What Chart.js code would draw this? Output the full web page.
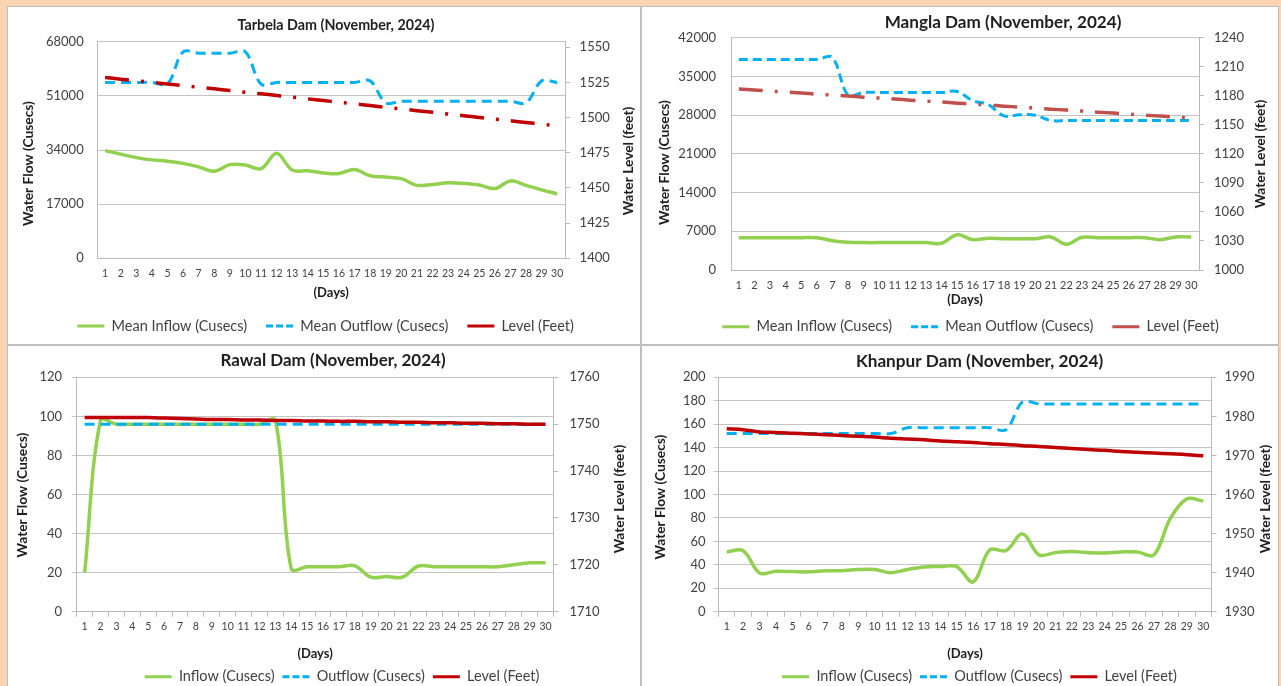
<!DOCTYPE html>
<html><head><meta charset="utf-8">
<script src="https://cdn.jsdelivr.net/npm/chart.js@4.4.1/dist/chart.umd.min.js"></script>
<style>
html,body{margin:0;padding:0;}
body{width:1281px;height:686px;background:#FBD4B4;position:relative;overflow:hidden;}
.panel{position:absolute;background:#fff;border:1px solid #BFBFBF;box-sizing:border-box;overflow:hidden;}
.panel canvas{position:absolute;left:0;top:0;}
</style></head><body>
<div class="panel" style="left:7px;top:6px;width:634px;height:339px"><canvas id="c1" width="632" height="337" style="width:632px;height:337px"></canvas></div>
<div class="panel" style="left:641px;top:6px;width:638px;height:339px"><canvas id="c2" width="636" height="337" style="width:636px;height:337px"></canvas></div>
<div class="panel" style="left:7px;top:345px;width:634px;height:345px"><canvas id="c3" width="632" height="350" style="width:632px;height:350px"></canvas></div>
<div class="panel" style="left:641px;top:345px;width:638px;height:345px"><canvas id="c4" width="636" height="350" style="width:636px;height:350px"></canvas></div>
<script>
// ---------- DATA ----------
const days = ['1','2','3','4','5','6','7','8','9','10','11','12','13','14','15','16','17','18','19','20','21','22','23','24','25','26','27','28','29','30'];

const tarbelaInflow  = [33800, 32700, 31600, 30900, 30500, 29800, 28700, 27300, 29400, 29300, 28100, 33000, 27700, 27500, 26800, 26600, 27900, 25900, 25500, 25000, 22900, 23200, 23700, 23500, 23000, 21900, 24300, 22900, 21500, 20200];
const tarbelaOutflow = [55200, 55200, 55200, 55200, 54700, 64800, 64400, 64400, 64400, 64800, 54700, 55200, 55200, 55200, 55200, 55200, 55200, 55700, 48800, 49300, 49300, 49300, 49300, 49300, 49300, 49300, 49300, 48800, 55700, 55200];
const tarbelaLevel   = [1528.4, 1527.3, 1526.2, 1525.0, 1523.9, 1522.7, 1521.5, 1520.4, 1519.2, 1518.0, 1516.9, 1515.7, 1514.5, 1513.3, 1512.1, 1510.9, 1509.7, 1508.5, 1507.3, 1506.1, 1504.9, 1503.7, 1502.5, 1501.3, 1500.1, 1498.9, 1497.7, 1496.5, 1495.3, 1494.2];
const tarbelaFlowTicks  = [0, 17000, 34000, 51000, 68000];
const tarbelaLevelTicks = [1400, 1425, 1450, 1475, 1500, 1525, 1550];

const manglaInflow  = [5850, 5850, 5850, 5850, 5850, 5850, 5300, 5000, 4950, 4950, 4950, 4950, 4950, 4830, 6390, 5490, 5730, 5670, 5670, 5670, 5970, 4650, 5910, 5850, 5850, 5850, 5850, 5490, 5970, 5970];
const manglaOutflow = [38070, 38070, 38070, 38070, 38070, 38070, 38430, 31620, 32100, 32100, 32100, 32100, 32100, 32100, 32280, 30600, 29900, 27870, 28060, 27980, 27030, 27030, 27030, 27030, 27030, 27030, 27030, 27030, 27030, 27030];
const manglaLevel   = [1186.9, 1185.9, 1184.8, 1183.8, 1182.8, 1181.7, 1180.7, 1179.7, 1178.6, 1177.6, 1176.6, 1175.5, 1174.5, 1173.5, 1172.4, 1171.4, 1170.4, 1169.3, 1168.3, 1167.3, 1166.2, 1165.2, 1164.2, 1163.1, 1162.1, 1161.1, 1160.0, 1159.0, 1158.0, 1156.9];
const manglaFlowTicks  = [0, 7000, 14000, 21000, 28000, 35000, 42000];
const manglaLevelTicks = [1000, 1030, 1060, 1090, 1120, 1150, 1180, 1210, 1240];

const rawalInflow  = [20, 98, 96, 96, 96, 96, 96, 96, 96, 96, 96, 96, 98, 22, 23, 23, 23, 23.5, 17.7, 18, 17.7, 23.4, 23, 23, 23, 23, 23, 24, 25, 25];
const rawalOutflow = [96, 96, 96, 96, 96, 96, 96, 96, 96, 96, 96, 96, 96, 96, 96, 96, 96, 96, 96, 96, 96, 96, 96, 96, 96, 96, 96, 96, 96, 96];
const rawalLevel   = [1751.4, 1751.4, 1751.4, 1751.4, 1751.4, 1751.3, 1751.2, 1751.1, 1751.0, 1751.0, 1750.9, 1750.9, 1750.8, 1750.8, 1750.7, 1750.7, 1750.6, 1750.6, 1750.5, 1750.5, 1750.4, 1750.4, 1750.3, 1750.3, 1750.2, 1750.2, 1750.1, 1750.1, 1750.0, 1750.0];
const rawalFlowTicks  = [0, 20, 40, 60, 80, 100, 120];
const rawalLevelTicks = [1710, 1720, 1730, 1740, 1750, 1760];

const khanpurInflow  = [51, 52, 33, 34.5, 34.2, 34, 35, 35, 36, 36, 33.3, 36, 38.2, 38.5, 38.5, 25.4, 52.7, 52.2, 66.4, 48.5, 50.4, 51.3, 50.4, 50.1, 51, 51, 48.5, 79.8, 96.3, 94.4];
const khanpurOutflow = [152, 152, 152, 152, 152, 152, 152, 152, 152, 152, 152, 157, 157, 157, 157, 157, 157, 155.3, 179, 177.3, 177.3, 177.3, 177.3, 177.3, 177.3, 177.3, 177.3, 177.3, 177.3, 177.3];
const khanpurLevel   = [1976.8, 1976.6, 1976.0, 1975.9, 1975.7, 1975.5, 1975.3, 1975.1, 1974.9, 1974.7, 1974.4, 1974.2, 1974.0, 1973.7, 1973.5, 1973.3, 1973.0, 1972.8, 1972.5, 1972.3, 1972.0, 1971.8, 1971.5, 1971.3, 1971.0, 1970.8, 1970.6, 1970.4, 1970.2, 1969.9];
const khanpurFlowTicks  = [0, 20, 40, 60, 80, 100, 120, 140, 160, 180, 200];
const khanpurLevelTicks = [1930, 1940, 1950, 1960, 1970, 1980, 1990];

const meanNames  = ['Mean Inflow (Cusecs)', 'Mean Outflow (Cusecs)', 'Level (Feet)'];
const plainNames = ['Inflow (Cusecs)', 'Outflow (Cusecs)', 'Level (Feet)'];
const flowTitle  = 'Water Flow (Cusecs)';
const levelTitle = 'Water Level (feet)';

// ---------- STYLE ----------
const FONT = 'Lato';
const GRID = '#C4C4C4', AXIS = '#BABABA', TICK = '#404040', TITLE = '#1E1E1E';
const GREEN = '#92D050', BLUE = '#00B0F0';
const TENSION = 0.35;
Chart.defaults.font.family = FONT;
Chart.defaults.color = TICK;

// chart title + rotated axis titles, and legend horizontal placement
const panelText = {
  id: 'panelText',
  afterLayout(chart, args, o) {
    if (chart.legend && o.legendShift) {
      chart.legend.left += o.legendShift;
      chart.legend.right += o.legendShift;
    }
  },
  afterDraw(chart, args, o) {
    const ctx = chart.ctx;
    ctx.save();
    ctx.fillStyle = TITLE;
    ctx.textAlign = 'center';
    ctx.textBaseline = 'middle';
    ctx.font = 'bold ' + o.titleSize + 'px ' + FONT;
    ctx.fillText(o.title, o.titleX, o.titleY);
    ctx.font = 'bold ' + o.axisSize + 'px ' + FONT;
    ctx.save();
    ctx.translate(o.leftX, o.leftY);
    ctx.rotate(-Math.PI / 2);
    ctx.fillText(flowTitle, 0, 0);
    ctx.restore();
    ctx.translate(o.rightX, o.rightY);
    ctx.rotate(-Math.PI / 2);
    ctx.fillText(levelTitle, 0, 0);
    ctx.restore();
  }
};

function buildChart(id, c) {
  const datasets = [
    { label: c.names[0], data: c.inflow, yAxisID: 'y', borderColor: GREEN, backgroundColor: GREEN, borderWidth: 3.5, pointRadius: 0, tension: TENSION, order: 3, fill: false },
    { label: c.names[1], data: c.outflow, yAxisID: 'y', borderColor: BLUE, backgroundColor: BLUE, borderWidth: 3, borderDash: c.outDash, pointRadius: 0, tension: TENSION, order: 2, fill: false },
    { label: c.names[2], data: c.level, yAxisID: 'y1', borderColor: c.levelColor, backgroundColor: c.levelColor, borderWidth: 3.5, borderDash: c.levelDash, pointRadius: 0, tension: TENSION, order: 1, fill: false }
  ];
  return new Chart(document.getElementById(id), {
    type: 'line',
    data: { labels: days, datasets: datasets },
    plugins: [panelText],
    options: {
      responsive: false, animation: false, devicePixelRatio: 1,
      layout: { padding: c.pad },
      plugins: {
        title: { display: false },
        tooltip: { enabled: false },
        legend: {
          display: true, position: 'bottom',
          labels: {
            usePointStyle: true, pointStyle: 'line', pointStyleWidth: 27,
            padding: c.legendGap, color: TICK, font: { family: FONT, size: 14.5 },
            generateLabels(chart) {
              const items = Chart.defaults.plugins.legend.labels.generateLabels(chart);
              items.sort((a, b) => a.datasetIndex - b.datasetIndex);
              items.forEach(it => {
                if (it.datasetIndex === 2) it.lineDash = [];
                if (it.datasetIndex === 1) it.lineDash = [7, 3];
                it.lineWidth = 3;
              });
              return items;
            }
          }
        },
        panelText: c.text
      },
      scales: {
        x: {
          type: 'category', offset: true,
          afterFit: s => { s.height = c.xHeight; },
          grid: { display: true, offset: true, drawOnChartArea: false, drawTicks: c.xTick > 0, tickLength: c.xTick, color: AXIS, lineWidth: 1 },
          border: { display: true, color: AXIS, width: 1 },
          ticks: { padding: c.xPad, color: TICK, font: { size: c.xFont }, maxRotation: 0, minRotation: 0, autoSkip: false },
          title: { display: true, text: '(Days)', color: TITLE, font: { size: 13, weight: 'bold' }, padding: { top: 0, bottom: c.daysPad } }
        },
        y: {
          type: 'linear', position: 'left',
          min: c.flowTicks[0], max: c.flowTicks[c.flowTicks.length - 1],
          afterBuildTicks: s => { s.ticks = c.flowTicks.map(v => ({ value: v })); },
          afterFit: s => { s.width = c.yWidth; },
          grid: { color: GRID, lineWidth: 1, drawTicks: c.yTick > 0, tickLength: c.yTick },
          border: { display: true, color: AXIS, width: 1 },
          ticks: { padding: c.yPad, color: TICK, font: { size: 13 }, callback: v => String(v) },
          title: { display: false }
        },
        y1: {
          type: 'linear', position: 'right',
          min: c.levelTicks[0], max: c.levelMax,
          afterBuildTicks: s => { s.ticks = c.levelTicks.map(v => ({ value: v })); },
          afterFit: s => { s.width = c.y1Width; },
          grid: { drawOnChartArea: false, drawTicks: true, tickLength: 5, color: AXIS, lineWidth: 1 },
          border: { display: true, color: AXIS, width: 1 },
          ticks: { padding: c.y1Pad, color: TICK, font: { size: 13 }, callback: v => String(v) },
          title: { display: false }
        }
      }
    }
  });
}

buildChart('c1', {
  inflow: tarbelaInflow, outflow: tarbelaOutflow, level: tarbelaLevel,
  flowTicks: tarbelaFlowTicks, levelTicks: tarbelaLevelTicks, levelMax: 1553.9,
  names: meanNames, levelColor: '#C00000', levelDash: [24, 12, 3, 12], outDash: [10, 6],
  pad: { top: 34.7, left: 0, right: 0, bottom: 0.75 },
  yWidth: 89.3, y1Width: 75, xHeight: 41.45, legendGap: 19,
  xTick: 0, xPad: 8.7, xFont: 10.5, daysPad: -1.05,
  yTick: 0, yPad: 13.6, y1Pad: 9.6,
  text: { title: 'Tarbela Dam (November, 2024)', titleX: 328, titleY: 18.7, titleSize: 14.3, axisSize: 13.8,
          leftX: 20.6, leftY: 156.5, rightX: 620.6, rightY: 154, legendShift: 1.6 }
});

buildChart('c2', {
  inflow: manglaInflow, outflow: manglaOutflow, level: manglaLevel,
  flowTicks: manglaFlowTicks, levelTicks: manglaLevelTicks, levelMax: 1240,
  names: meanNames, levelColor: '#C0504D', levelDash: [24, 12, 3, 12], outDash: [9, 5],
  pad: { top: 30.7, left: 0, right: 0, bottom: 0.05 },
  yWidth: 89, y1Width: 79, xHeight: 30.45, legendGap: 19,
  xTick: 0, xPad: 8.4, xFont: 11, daysPad: -7.35,
  yTick: 0, yPad: 15, y1Pad: 10,
  text: { title: 'Mangla Dam (November, 2024)', titleX: 361, titleY: 15.3, titleSize: 17.1, axisSize: 13.8,
          leftX: 23, leftY: 155.5, rightX: 619, rightY: 147, legendShift: 10.6 }
});

buildChart('c3', {
  inflow: rawalInflow, outflow: rawalOutflow, level: rawalLevel,
  flowTicks: rawalFlowTicks, levelTicks: rawalLevelTicks, levelMax: 1760,
  names: plainNames, levelColor: '#C00000', levelDash: [], outDash: [10, 6],
  pad: { top: 31.3, left: 0, right: 0, bottom: 2.05 },
  yWidth: 68.7, y1Width: 86.5, xHeight: 49.75, legendGap: 8,
  xTick: 5, xPad: 3.7, xFont: 10.5, daysPad: -0.35,
  yTick: 5, yPad: 9.7, y1Pad: 11,
  text: { title: 'Rawal Dam (November, 2024)', titleX: 325, titleY: 15, titleSize: 17, axisSize: 13.8,
          leftX: 14.4, leftY: 149, rightX: 611.6, rightY: 153, legendShift: 18 }
});

buildChart('c4', {
  inflow: khanpurInflow, outflow: khanpurOutflow, level: khanpurLevel,
  flowTicks: khanpurFlowTicks, levelTicks: khanpurLevelTicks, levelMax: 1990,
  names: plainNames, levelColor: '#C00000', levelDash: [], outDash: [10, 6],
  pad: { top: 31.3, left: 0, right: 0, bottom: 2.05 },
  yWidth: 76.5, y1Width: 66.5, xHeight: 49.75, legendGap: 8,
  xTick: 5, xPad: 3.7, xFont: 10.5, daysPad: -0.65,
  yTick: 5, yPad: 8, y1Pad: 8,
  text: { title: 'Khanpur Dam (November, 2024)', titleX: 337.5, titleY: 15, titleSize: 17.2, axisSize: 13.8,
          leftX: 18.4, leftY: 151, rightX: 623.5, rightY: 153, legendShift: 19.5 }
});
</script>
</body></html>
